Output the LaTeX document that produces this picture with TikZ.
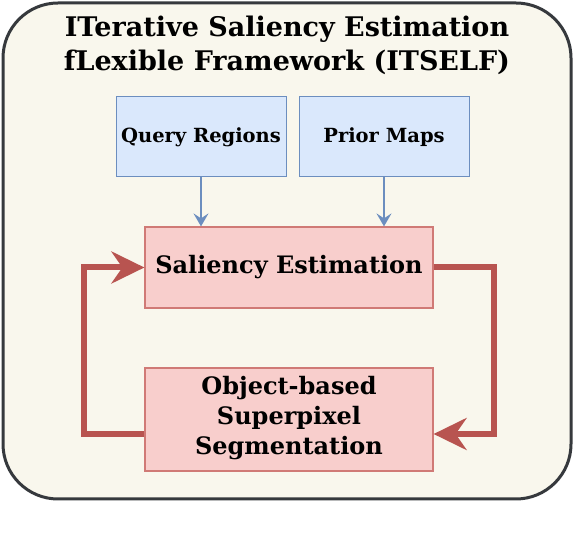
\documentclass[tikz,border=0pt]{standalone}
\usepackage{fontspec}
\setmainfont{DejaVu Serif}
\usetikzlibrary{arrows.meta,calc}
\definecolor{bgfill}{HTML}{F9F7ED}
\definecolor{bgdraw}{HTML}{36393D}
\definecolor{bluefill}{HTML}{DAE8FC}
\definecolor{bluedraw}{HTML}{6C8EBF}
\definecolor{redfill}{HTML}{F8CECC}
\definecolor{reddraw}{HTML}{B85450}
\definecolor{redbox}{HTML}{D07A76}
\tikzset{
  bluebox/.style={draw=bluedraw, fill=bluefill, line width=1pt, minimum width=170pt, minimum height=80pt, inner sep=0pt, font=\bfseries\fontsize{19.5}{24}\selectfont},
  redbox/.style={draw=redbox, fill=redfill, line width=1.2pt, minimum width=288pt, inner sep=0pt, align=center, font=\bfseries\fontsize{24}{30}\selectfont},
  bluearrow/.style={draw=bluedraw, line width=2pt, -{Stealth[length=13pt,width=15pt,inset=5pt]}},
  redarrow/.style={draw=reddraw, line width=6pt, -{Stealth[length=33pt,width=32pt,inset=11pt]}},
}
\begin{document}
\begin{tikzpicture}[x=1pt,y=-1pt]
\useasboundingbox (0,0) rectangle (574,534);
\fill[white] (0,0) rectangle (574,534);
\draw[bgdraw, fill=bgfill, line width=3pt, rounded corners=55pt] (3,3) rectangle (571,499);
\node[font=\bfseries\fontsize{27}{34}\selectfont, align=center] (title) at (287,45) {ITerative Saliency Estimation\\fLexible Framework (ITSELF)};
\node[bluebox] (qr) at (201,137) {Query Regions};
\node[bluebox] (pm) at (384,137) {Prior Maps};
\node[redbox, minimum height=81pt] (se) at (289,267.5) {Saliency Estimation};
\node[redbox, minimum height=103pt, text depth=9pt] (os) at (289,419.5) {Object-based\\Superpixel\\Segmentation};
\draw[bluearrow] (qr.south) -- (qr.south |- se.north);
\draw[bluearrow] (pm.south) -- (pm.south |- se.north);
\coordinate (osin) at ($(os.east)+(0,14.5)$);
\coordinate (osout) at ($(os.west)+(0,14.5)$);
\draw[redarrow] (se.east) -- ($(se.east)+(60,0)$) |- (osin);
\draw[redarrow] (osout) -- ($(osout)+(-60,0)$) |- (se.west);
\end{tikzpicture}
\end{document}
